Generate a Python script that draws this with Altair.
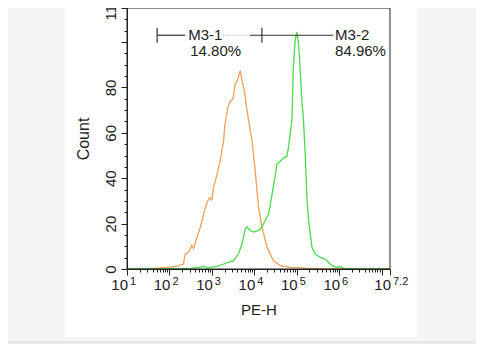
import altair as alt
import pandas as pd

# ---- data (x as log10 of PE-H, y as Count) ----
orange_log = [1.0, 1.4, 1.6, 1.8, 2.02, 2.18, 2.33, 2.37, 2.45, 2.53, 2.57, 2.65, 2.73, 2.81, 2.88,
              2.95, 3.0, 3.04, 3.12, 3.2, 3.28, 3.31, 3.385, 3.44, 3.5, 3.55, 3.6, 3.668, 3.71, 3.745,
              3.785, 3.825, 3.863, 3.943, 4.02, 4.1, 4.18, 4.3, 4.45, 4.61, 4.85, 5.24, 5.7, 6.3, 6.5, 7.2]
orange_count = [0, 0, 0.3, 0.5, 0.8, 1.3, 2.2, 6.5, 7.5, 10.4, 9, 14, 18.5, 24.4, 29,
                31.5, 30.5, 36, 41.5, 48, 57, 64, 71.8, 74, 75, 81.5, 83, 87.4, 83, 80.7,
                76, 70.4, 66, 57, 43.7, 27.4, 18.5, 9.6, 3.7, 1.5, 0.7, 0.3, 0, 0.3, 0, 0]

green_log = [1.0, 2.02, 2.5, 2.73, 2.81, 2.88, 3.12, 3.28, 3.51, 3.63, 3.71, 3.79, 3.83, 3.9, 3.98,
             4.1, 4.18, 4.26, 4.34, 4.41, 4.49, 4.53, 4.61, 4.69, 4.77, 4.81, 4.89, 4.92, 4.96, 5.0,
             5.04, 5.08, 5.12, 5.16, 5.2, 5.24, 5.28, 5.36, 5.43, 5.55, 5.67, 5.75, 5.83, 5.95, 6.02,
             6.1, 6.26, 7.2]
green_count = [0, 0, 0.3, 0.8, 1.2, 0.5, 1.2, 2.2, 3.7, 6.7, 11, 17.8, 18.5, 17, 16.3,
               17, 18.5, 21.5, 24.4, 31.8, 40.7, 46, 47.4, 49, 49.6, 54, 66, 88, 100, 104.5,
               100, 89, 74.8, 66, 51, 31.8, 21.5, 9.6, 6.7, 5.2, 4.4, 3, 1.5, 0.7, 1.2,
               0.3, 0, 0]

x_tick_exp = ["1", "2", "3", "4", "5", "6", "7.2"]
y_major = [0, 20, 40, 60, 80, 100, 115]
y_minor = list(range(0, 116, 5))

gate_names = ["M3-1", "M3-2"]
gate_pcts = ["14.80%", "84.96%"]
gate_label_log = [2.443, 5.905]
gate_pct_log = [2.49, 5.905]
gate_tick_log = [1.71, 4.18]
gate_seg_start = [1.71, 3.27, 3.90]
gate_seg_end = [2.37, 3.90, 5.86]
gate_seg_style = ["solid", "dotted", "solid"]
gate_line_count = 103.0
gate_pct_count = 96.0

# ---- derived tables ----
XMIN, XMAX = 10.0, 10 ** 7.2
YMIN, YMAX = 0, 115
FONT = "Liberation Sans"
INK = "#222222"
PAGE_GRAY = "#f4f5f5"

orange = pd.DataFrame({"x": [10 ** v for v in orange_log], "y": orange_count})
green = pd.DataFrame({"x": [10 ** v for v in green_log], "y": green_count})

x_major = [10.0 ** k for k in range(1, 8)] + [XMAX]
x_minor = [m * 10.0 ** k for k in range(1, 8) for m in range(2, 10) if m * 10.0 ** k <= XMAX]

ticklab = pd.DataFrame({
    "x": [10 ** float(e) for e in x_tick_exp],
    "exp": x_tick_exp,
    "shift": [-9 if len(e) > 1 else 0 for e in x_tick_exp],
})

segs = pd.DataFrame({
    "x": [10 ** v for v in gate_seg_start],
    "x2": [10 ** v for v in gate_seg_end],
    "y": [gate_line_count] * len(gate_seg_start),
    "style": gate_seg_style,
})
gticks = pd.DataFrame({
    "x": [10 ** v for v in gate_tick_log],
    "y": [gate_line_count - 3.3] * len(gate_tick_log),
    "y2": [gate_line_count + 3.3] * len(gate_tick_log),
})
gtext = pd.DataFrame({
    "x": [10 ** v for v in gate_label_log] + [10 ** v for v in gate_pct_log],
    "y": [gate_line_count] * 2 + [gate_pct_count] * 2,
    "t": gate_names + gate_pcts,
})

xs = alt.Scale(type="log", domain=[XMIN, XMAX], nice=False)
ys = alt.Scale(domain=[YMIN, YMAX], nice=False, zero=False)

W, H = 263, 261
one = alt.Data(values=[{}])

# page surround (outside the white picture panel)
left_strip = alt.Chart(one).mark_rect(color=PAGE_GRAY).encode(
    x=alt.value(-130), x2=alt.value(-62), y=alt.value(0), y2=alt.value(345))
right_strip = alt.Chart(one).mark_rect(color=PAGE_GRAY).encode(
    x=alt.value(290), x2=alt.value(360), y=alt.value(0), y2=alt.value(345))
bottom_strip = alt.Chart(one).mark_rect(color=PAGE_GRAY).encode(
    x=alt.value(-130), x2=alt.value(360), y=alt.value(329), y2=alt.value(334))
band = alt.Chart(one).mark_rect(color="#eceeee").encode(
    x=alt.value(-130), x2=alt.value(360), y=alt.value(334), y2=alt.value(345))
bandline = alt.Chart(one).mark_rule(color="#d8dbdb", strokeWidth=1).encode(
    x=alt.value(-130), x2=alt.value(360), y=alt.value(334))

ax_x_major = alt.Axis(values=x_major, labels=False, tickSize=6, tickColor=INK, domainColor=INK,
                      title="PE-H", titleFont=FONT, titleFontSize=15, titleFontWeight="normal",
                      titleColor=INK, titlePadding=27, grid=False, orient="bottom", zindex=1)
ax_y_major = alt.Axis(values=y_major, labelExpr="datum.value == 100 ? '' : datum.label",
                      labelAngle=270, labelAlign="center", labelBaseline="bottom", labelPadding=3,
                      labelFont=FONT, labelFontSize=15, labelColor=INK, labelOverlap=False,
                      labelFlush=False, tickSize=6, tickColor=INK, domainColor=INK,
                      title="Count", titleFont=FONT, titleFontSize=16, titleFontWeight="normal",
                      titleColor=INK, titlePadding=12, grid=False, orient="left", zindex=1)
ax_x_minor = alt.Axis(values=x_minor, labels=False, tickSize=3, tickColor=INK, domain=False,
                      title=None, grid=False, orient="bottom", zindex=1)
ax_y_minor = alt.Axis(values=y_minor, labels=False, tickSize=3, tickColor=INK, domain=False,
                      title=None, grid=False, orient="left", zindex=1)

o_line = alt.Chart(orange).mark_line(color="#f2a057", strokeWidth=1.3, interpolate="linear").encode(
    x=alt.X("x:Q", scale=xs, axis=ax_x_major),
    y=alt.Y("y:Q", scale=ys, axis=ax_y_major))
g_line = alt.Chart(green).mark_line(color="#4cd94c", strokeWidth=1.3, interpolate="linear").encode(
    x=alt.X("x:Q", scale=xs, axis=ax_x_minor),
    y=alt.Y("y:Q", scale=ys, axis=ax_y_minor))

seg_solid = alt.Chart(segs).transform_filter("datum.style == 'solid'").mark_rule(
    color="#333333", strokeWidth=1.2).encode(
    x=alt.X("x:Q", scale=xs, axis=None), x2="x2:Q", y=alt.Y("y:Q", scale=ys, axis=None))
seg_dot = alt.Chart(segs).transform_filter("datum.style == 'dotted'").mark_rule(
    color="#aaaaaa", strokeWidth=1, strokeDash=[1, 1.5]).encode(
    x=alt.X("x:Q", scale=xs, axis=None), x2="x2:Q", y=alt.Y("y:Q", scale=ys, axis=None))
g_ticks = alt.Chart(gticks).mark_rule(color="#333333", strokeWidth=1.2).encode(
    x=alt.X("x:Q", scale=xs, axis=None), y=alt.Y("y:Q", scale=ys, axis=None), y2="y2:Q")
g_text = alt.Chart(gtext).mark_text(align="left", baseline="middle", font=FONT, fontSize=15,
                                    color=INK).encode(
    x=alt.X("x:Q", scale=xs, axis=None), y=alt.Y("y:Q", scale=ys, axis=None), text="t:N")

base_lab = alt.Chart(ticklab).mark_text(align="right", baseline="alphabetic", font=FONT,
                                        fontSize=15, color=INK, dx=1).encode(
    x=alt.X("x:Q", scale=xs, axis=None), xOffset=alt.XOffset("shift:Q", scale=None),
    y=alt.value(282), text=alt.value("10"))
exp_lab = alt.Chart(ticklab).mark_text(align="left", baseline="alphabetic", font=FONT,
                                       fontSize=11, color=INK, dx=3).encode(
    x=alt.X("x:Q", scale=xs, axis=None), xOffset=alt.XOffset("shift:Q", scale=None),
    y=alt.value(277), text="exp:N")

frame = alt.Chart(one).mark_rect(fill=None, stroke=INK, strokeWidth=1).encode(
    x=alt.value(0), x2=alt.value(W), y=alt.value(0), y2=alt.value(H))

chart = alt.layer(
    left_strip, right_strip, bottom_strip, band, bandline,
    o_line, g_line, seg_solid, seg_dot, g_ticks, g_text, base_lab, exp_lab, frame
).resolve_scale(x="shared", y="shared").resolve_axis(x="independent", y="independent").properties(
    width=W, height=H,
    autosize=alt.AutoSizeParams(type="none"),
    padding={"left": 119, "top": 0, "right": 86, "bottom": 75},
    background="white",
).configure_view(stroke=None)

chart.save("out.html", embed_options={"renderer": "svg", "actions": False})
